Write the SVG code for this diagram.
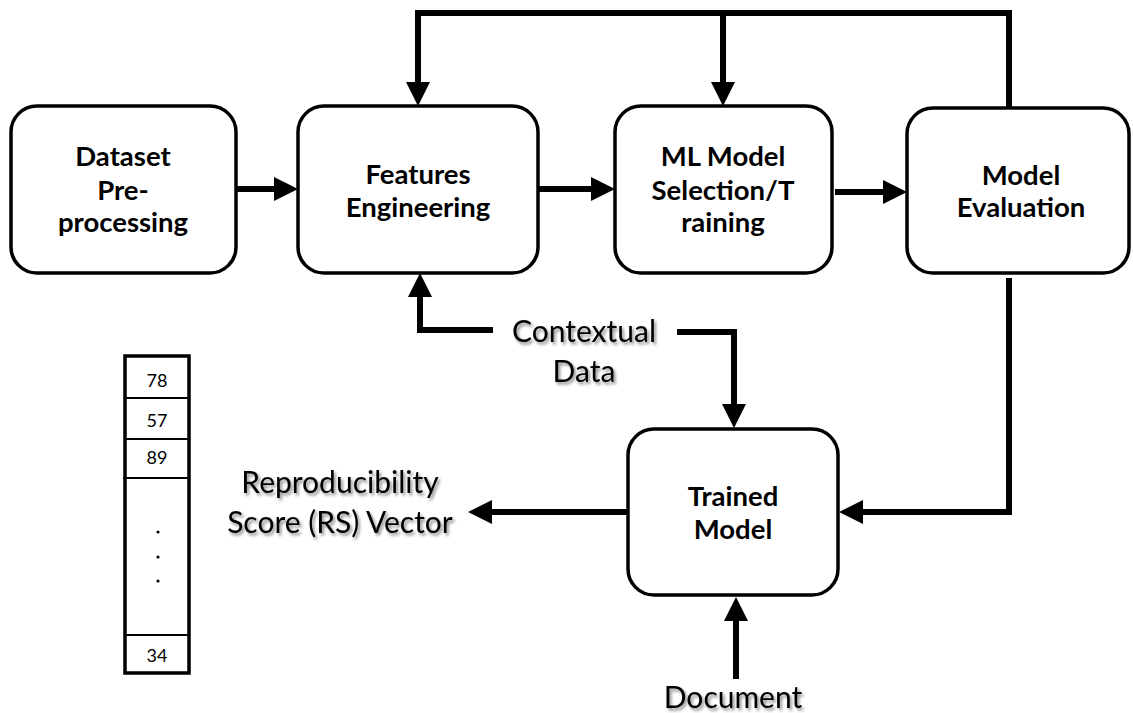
<svg xmlns="http://www.w3.org/2000/svg" width="1133" height="713" viewBox="0 0 1133 713">
  <style>
    .box { fill: #ffffff; stroke: #000000; stroke-width: 3.5; }
    .lbl { font-family: Lato, "Open Sans", "Liberation Sans", sans-serif; font-weight: bold; font-size: 27.5px; fill: #000000; text-anchor: middle; }
    .io { font-family: Lato, "Open Sans", "Liberation Sans", sans-serif; font-size: 30px; fill: #000000; text-anchor: middle; filter: url(#shadow); }
    .num { font-family: Lato, "Open Sans", "Liberation Sans", sans-serif; font-size: 18px; fill: #000000; text-anchor: middle; }
    .wire { fill: none; stroke: #000000; stroke-width: 6; stroke-linejoin: miter; }
    .arrow { fill: none; stroke: #000000; stroke-width: 6; marker-end: url(#head); }
    .cell { stroke: #000000; stroke-width: 1.8; }
  </style>
  <defs>
    <marker id="head" markerUnits="userSpaceOnUse" markerWidth="24" markerHeight="24" refX="0" refY="12" orient="auto" overflow="visible">
      <path d="M0,0 L24,12 L0,24 Z" fill="#000000"/>
    </marker>
    <filter id="shadow" x="-10%" y="-30%" width="130%" height="170%">
      <feDropShadow dx="2" dy="2.5" stdDeviation="1.6" flood-color="#000000" flood-opacity="0.45"/>
    </filter>
  </defs>

  <rect width="1133" height="713" fill="#ffffff"/>

  <!-- connectors -->
  <g id="connectors">
    <!-- main pipeline -->
    <line class="arrow" x1="236" y1="189" x2="274" y2="189"/>
    <line class="arrow" x1="538" y1="189" x2="591" y2="189"/>
    <line class="arrow" x1="835" y1="192" x2="883" y2="192"/>
    <!-- feedback loop from evaluation -->
    <polyline class="wire" points="1009,109 1009,13 418,13 418,82"/>
    <path d="M406,82 L430,82 L418,106 Z" fill="#000000"/>
    <line class="wire" x1="723" y1="13" x2="723" y2="82"/>
    <path d="M711,82 L735,82 L723,106 Z" fill="#000000"/>
    <!-- evaluation to trained model -->
    <polyline class="wire" points="1009,278 1009,512 863,512"/>
    <path d="M863,500 L863,524 L839,512 Z" fill="#000000"/>
    <!-- contextual data -->
    <polyline class="wire" points="493,330 420,330 420,297"/>
    <path d="M408,297 L432,297 L420,273 Z" fill="#000000"/>
    <polyline class="wire" points="677,332 734,332 734,404"/>
    <path d="M722,404 L746,404 L734,428 Z" fill="#000000"/>
    <!-- trained model output -->
    <line class="wire" x1="628" y1="512" x2="492" y2="512"/>
    <path d="M492,500 L492,524 L468,512 Z" fill="#000000"/>
    <!-- document input -->
    <line class="wire" x1="736" y1="679" x2="736" y2="621"/>
    <path d="M724,621 L748,621 L736,597 Z" fill="#000000"/>
  </g>

  <g id="dataset-preprocessing">
    <rect class="box" x="11" y="106" width="225" height="167" rx="26"/>
    <text class="lbl" x="123" y="166">Dataset</text>
    <text class="lbl" x="123" y="200">Pre-</text>
    <text class="lbl" x="123" y="232">processing</text>
  </g>

  <g id="features-engineering">
    <rect class="box" x="298" y="106" width="240" height="167" rx="26"/>
    <text class="lbl" x="418" y="184">Features</text>
    <text class="lbl" x="418" y="217">Engineering</text>
  </g>

  <g id="ml-model-training">
    <rect class="box" x="615" y="106" width="217" height="167" rx="26"/>
    <text class="lbl" x="723" y="166">ML Model</text>
    <text class="lbl" x="723" y="200">Selection/T</text>
    <text class="lbl" x="723" y="232">raining</text>
  </g>

  <g id="model-evaluation">
    <rect class="box" x="907" y="108" width="222" height="165" rx="26"/>
    <text class="lbl" x="1021" y="185">Model</text>
    <text class="lbl" x="1021" y="217">Evaluation</text>
  </g>

  <g id="trained-model">
    <rect class="box" x="628" y="429" width="210" height="166" rx="26"/>
    <text class="lbl" x="733" y="506">Trained</text>
    <text class="lbl" x="733" y="539">Model</text>
  </g>

  <g id="contextual-data">
    <text class="io" x="584" y="342">Contextual</text>
    <text class="io" x="584" y="382">Data</text>
  </g>

  <g id="rs-vector-label">
    <text class="io" x="340" y="493">Reproducibility</text>
    <text class="io" x="340" y="533">Score (RS) Vector</text>
  </g>

  <g id="document">
    <text class="io" x="733" y="708">Document</text>
  </g>

  <g id="rs-vector">
    <rect x="125" y="356" width="64" height="317" fill="#ffffff" stroke="#000000" stroke-width="3.5"/>
    <line class="cell" x1="125" y1="398" x2="189" y2="398"/>
    <line class="cell" x1="125" y1="439" x2="189" y2="439"/>
    <line class="cell" x1="123" y1="478" x2="189" y2="478"/>
    <line class="cell" x1="125" y1="635" x2="189" y2="635"/>
    <text class="num" x="157" y="387">78</text>
    <text class="num" x="157" y="427">57</text>
    <text class="num" x="157" y="464">89</text>
    <circle cx="158" cy="532" r="1.6" fill="#000000"/>
    <circle cx="158" cy="557" r="1.6" fill="#000000"/>
    <circle cx="158" cy="581" r="1.6" fill="#000000"/>
    <text class="num" x="157" y="662">34</text>
  </g>
</svg>
